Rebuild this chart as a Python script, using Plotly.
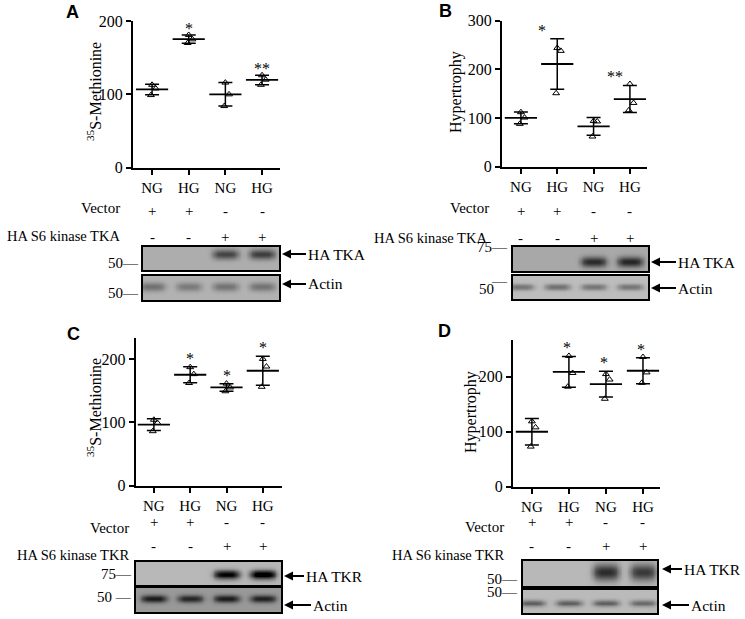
import numpy as np
import plotly.graph_objects as go

W, H = 745, 619
SERIF = "Liberation Serif"
SANS = "Liberation Sans"

# ---------------- data ----------------
CATS = ["NG", "HG", "NG", "HG"]
VECTOR_SIGNS = ["+", "+", "-", "-"]
KINASE_SIGNS = ["-", "-", "+", "+"]

A_VALUES = [[113, 108, 99], [181, 175, 170], [116, 100, 84], [126, 120, 113]]
B_VALUES = [[112, 101, 88], [244, 238, 151], [94, 93, 62], [170, 131, 116]]
C_VALUES = [[104, 99, 86], [187, 176, 162], [161, 155, 149], [200, 188, 156]]
D_VALUES = [[119, 108, 73], [238, 207, 182], [205, 195, 160], [236, 208, 189]]

A_STARS = ["", "*", "", "**"]
B_STARS = ["", "*", "", "**"]
C_STARS = ["", "*", "*", "*"]
D_STARS = ["", "*", "*", "*"]

# blot band intensities (darkness, 0..1) per lane
A_HA_BANDS = [0.0, 0.0, 0.42, 0.45]
A_ACTIN_BANDS = [0.26, 0.22, 0.25, 0.25]
B_HA_BANDS = [0.0, 0.0, 0.5, 0.52]
B_ACTIN_BANDS = [0.28, 0.3, 0.28, 0.28]
C_HA_BANDS = [0.0, 0.0, 0.72, 0.8]
C_ACTIN_BANDS = [0.5, 0.46, 0.5, 0.48]
D_HA_BANDS = [0.0, 0.0, 0.55, 0.5]
D_ACTIN_BANDS = [0.36, 0.36, 0.36, 0.32]

# ---------------- layout / style ----------------
JITTER = [0.0, 0.1, -0.03]

PANELS = [
    dict(letter="A", values=A_VALUES, stars=A_STARS, star_dx=0, star_dy=-4,
         letter_xy=(72, 12), xdom=(133, 280), ydom=(167.7, 21), xr=(-0.52, 3.49), yr=(0, 200),
         ytitle="<sup>35</sup>S-Methionine", ytitle_xy=(94, 92),
         vec_xy=(122, 208), kin_xy=(122, 236), sign_y=(211, 237), kin_text="HA S6 kinase TKA",
         box1=(143, 279, 247, 270), box2=(143, 279, 276, 300),
         bands1=A_HA_BANDS, bands2=A_ACTIN_BANDS, bg=(0.32, 0.3), yc=(0.68, 0.55), sy=(0.15, 0.13),
         markers=[("50—", 141, 263), ("50—", 141, 293)],
         arrows=[("HA TKA", 282, 254, 306), ("Actin", 282, 284, 306)]),
    dict(letter="B", values=B_VALUES, stars=B_STARS, star_dx=-15, star_dy=-2,
         letter_xy=(445, 11), xdom=(502, 647), ydom=(166.7, 20.7), xr=(-0.52, 3.47), yr=(0, 300),
         ytitle="Hypertrophy", ytitle_xy=(456, 92),
         vec_xy=(491, 208), kin_xy=(489, 238), sign_y=(211, 238), kin_text="HA S6 kinase TKA",
         box1=(513, 648, 247, 271), box2=(513, 648, 276, 299),
         bands1=B_HA_BANDS, bands2=B_ACTIN_BANDS, bg=(0.34, 0.26), yc=(0.38, 0.52), sy=(0.15, 0.1),
         markers=[("75—", 510, 247), ("50", 496, 289), ("—", 510, 281)],
         arrows=[("HA TKA", 651, 262, 676), ("Actin", 651, 288, 676)]),
    dict(letter="C", values=C_VALUES, stars=C_STARS, star_dx=0, star_dy=-2,
         letter_xy=(73, 334), xdom=(135.7, 281.7), ydom=(485.7, 338), xr=(-0.5, 3.52), yr=(0, 233),
         ytitle="<sup>35</sup>S-Methionine", ytitle_xy=(94, 408),
         vec_xy=(131, 528), kin_xy=(131, 555), sign_y=(532, 556), kin_text="HA S6 kinase TKR",
         box1=(136, 281, 562, 585), box2=(136, 281, 588, 612),
         bands1=C_HA_BANDS, bands2=C_ACTIN_BANDS, bg=(0.28, 0.4), yc=(0.45, 0.55), sy=(0.14, 0.11),
         markers=[("75—", 134, 574), ("50 —", 134, 597)],
         arrows=[("HA TKR", 284, 576, 304), ("Actin", 284, 605, 311)]),
    dict(letter="D", values=D_VALUES, stars=D_STARS, star_dx=-2, star_dy=-2,
         letter_xy=(444, 331), xdom=(513, 660), ydom=(486.7, 340), xr=(-0.51, 3.46), yr=(0, 267),
         ytitle="Hypertrophy", ytitle_xy=(471, 412),
         vec_xy=(506, 527), kin_xy=(506, 555), sign_y=(532, 556), kin_text="HA S6 kinase TKR",
         box1=(523, 657, 561, 586), box2=(523, 657, 590, 613),
         bands1=D_HA_BANDS, bands2=D_ACTIN_BANDS, bg=(0.28, 0.27), yc=(0.55, 0.42), sy=(0.24, 0.1),
         markers=[("50—", 520, 579), ("50—", 520, 592)],
         arrows=[("HA TKR", 662, 569, 682), ("Actin", 662, 605, 689)]),
]


def px(x):
    return x / W


def py(y):
    return 1 - y / H


fig = go.Figure()
ann = []
layout = {}


def txt(x, y, s, size=15, xanchor="center", yanchor="middle", family=SERIF, **kw):
    ann.append(dict(x=px(x), y=py(y), xref="paper", yref="paper", text=s, showarrow=False,
                    xanchor=xanchor, yanchor=yanchor,
                    font=dict(family=family, size=size, color="black"), **kw))


axis_n = 0
for p in PANELS:
    axis_n += 1
    n = axis_n
    xa = "x" if n == 1 else f"x{n}"
    ya = "y" if n == 1 else f"y{n}"
    xkey = "xaxis" if n == 1 else f"xaxis{n}"
    ykey = "yaxis" if n == 1 else f"yaxis{n}"
    vals = [np.array(v, dtype=float) for v in p["values"]]
    means = [v.mean() for v in vals]
    sds = [v.std(ddof=1) for v in vals]

    xs, ys = [], []
    for i, v in enumerate(vals):
        for j, val in enumerate(v):
            xs.append(i + JITTER[j % len(JITTER)])
            ys.append(val)
    fig.add_trace(go.Scatter(x=xs, y=ys, mode="markers", xaxis=xa, yaxis=ya, showlegend=False,
                             marker=dict(symbol="triangle-up-open", size=6, color="black",
                                         line=dict(width=1, color="black"))))
    fig.add_trace(go.Scatter(x=list(range(len(CATS))), y=means, mode="markers", xaxis=xa, yaxis=ya,
                             showlegend=False,
                             marker=dict(symbol="line-ew", size=23, color="black",
                                         line=dict(width=1.8, color="black")),
                             error_y=dict(type="data", array=sds, visible=True, color="black",
                                          thickness=1.5, width=7)))

    layout[xkey] = dict(domain=[px(p["xdom"][0]), px(p["xdom"][1])], range=list(p["xr"]),
                        anchor=ya, tickmode="array", tickvals=list(range(len(CATS))), ticktext=CATS,
                        showline=True, linecolor="black", linewidth=2, ticks="outside", ticklen=5,
                        tickwidth=1.5, tickcolor="black", showgrid=False, zeroline=False,
                        automargin=False,
                        tickfont=dict(family=SERIF, size=15, color="black"), fixedrange=True)
    layout[ykey] = dict(domain=[py(p["ydom"][0]), py(p["ydom"][1])], range=list(p["yr"]),
                        anchor=xa, tickmode="array", tickvals=[0, 100, 200, 300],
                        showline=True, linecolor="black", linewidth=2, ticks="outside", ticklen=5,
                        tickwidth=1.5, tickcolor="black", showgrid=False, zeroline=False,
                        automargin=False,
                        tickfont=dict(family=SERIF, size=16, color="black"), fixedrange=True)

    # stars
    for i, s in enumerate(p["stars"]):
        if s:
            ann.append(dict(x=i, y=means[i] + sds[i], xref=xa, yref=ya, text=s, showarrow=False,
                            xanchor="center", yanchor="bottom", yshift=p["star_dy"], xshift=p["star_dx"],
                            font=dict(family=SERIF, size=16, color="black")))

    # letter and y title
    txt(p["letter_xy"][0], p["letter_xy"][1], "<b>%s</b>" % p["letter"], size=18, family=SANS)
    txt(p["ytitle_xy"][0], p["ytitle_xy"][1], p["ytitle"], size=16, textangle=-90)

    # condition rows
    txt(p["vec_xy"][0], p["vec_xy"][1], "Vector", size=15, xanchor="right")
    txt(p["kin_xy"][0], p["kin_xy"][1], p["kin_text"], size=14.5, xanchor="right")
    for i in range(len(CATS)):
        ann.append(dict(x=i, y=py(p["sign_y"][0]), xref=xa, yref="paper", text=VECTOR_SIGNS[i],
                        showarrow=False, font=dict(family=SERIF, size=15, color="black")))
        ann.append(dict(x=i, y=py(p["sign_y"][1]), xref=xa, yref="paper", text=KINASE_SIGNS[i],
                        showarrow=False, font=dict(family=SERIF, size=15, color="black")))

    # blots
    d0, d1 = p["xdom"]
    r0, r1 = p["xr"]

    def lane(pxv):
        return r0 + (pxv - d0) / (d1 - d0) * (r1 - r0)

    for k, (box, bands) in enumerate([(p["box1"], p["bands1"]), (p["box2"], p["bands2"])]):
        axis_n += 1
        m = axis_n
        bxa, bya = f"x{m}", f"y{m}"
        lx0, lx1 = lane(box[0]), lane(box[1])
        gx = np.linspace(lx0, lx1, 160)
        gy = np.linspace(0, 1, 50)
        X, Y = np.meshgrid(gx, gy)
        Z = np.full_like(X, p["bg"][k])
        for i, inten in enumerate(bands):
            Z += inten * np.exp(-((X - i) / 0.36) ** 4) * np.exp(-0.5 * ((Y - p["yc"][k]) / p["sy"][k]) ** 2)
        Z = np.clip(Z, 0, 1)
        fig.add_trace(go.Heatmap(x=gx, y=gy, z=Z, xaxis=bxa, yaxis=bya, zmin=0, zmax=1, zsmooth="best",
                                 colorscale=[[0, "rgb(255,255,255)"], [1, "rgb(0,0,0)"]],
                                 showscale=False, hoverinfo="skip"))
        layout[f"xaxis{m}"] = dict(domain=[px(box[0]), px(box[1])], range=[lx0, lx1], anchor=bya,
                                   showline=True, mirror=True, linecolor="black", linewidth=1.5,
                                   showticklabels=False, ticks="", showgrid=False, zeroline=False,
                                   automargin=False, fixedrange=True)
        layout[f"yaxis{m}"] = dict(domain=[py(box[3]), py(box[2])], range=[0, 1], anchor=bxa,
                                   showline=True, mirror=True, linecolor="black", linewidth=1.5,
                                   showticklabels=False, ticks="", showgrid=False, zeroline=False,
                                   automargin=False, fixedrange=True)

    for (s, xx, yy) in p["markers"]:
        txt(xx, yy, s, size=15, xanchor="right")
    for (s, hx, yy, tx) in p["arrows"]:
        ann.append(dict(x=px(hx), y=py(yy), xref="paper", yref="paper", text=s, showarrow=True,
                        ax=tx - hx, ay=0, axref="pixel", ayref="pixel", xanchor="left",
                        arrowhead=2, arrowsize=1, arrowwidth=1.8, arrowcolor="black",
                        font=dict(family=SERIF, size=15.5, color="black")))

fig.update_layout(template="none", width=W, height=H,
                  margin=dict(l=0, r=0, t=0, b=0, pad=0, autoexpand=False),
                  font=dict(family=SERIF, color="black"),
                  paper_bgcolor="white", plot_bgcolor="white", showlegend=False,
                  annotations=ann, **layout)
fig.write_html("out.html", config={"displayModeBar": False},
               post_script="document.body.style.margin='0';document.body.style.overflow='hidden';")
